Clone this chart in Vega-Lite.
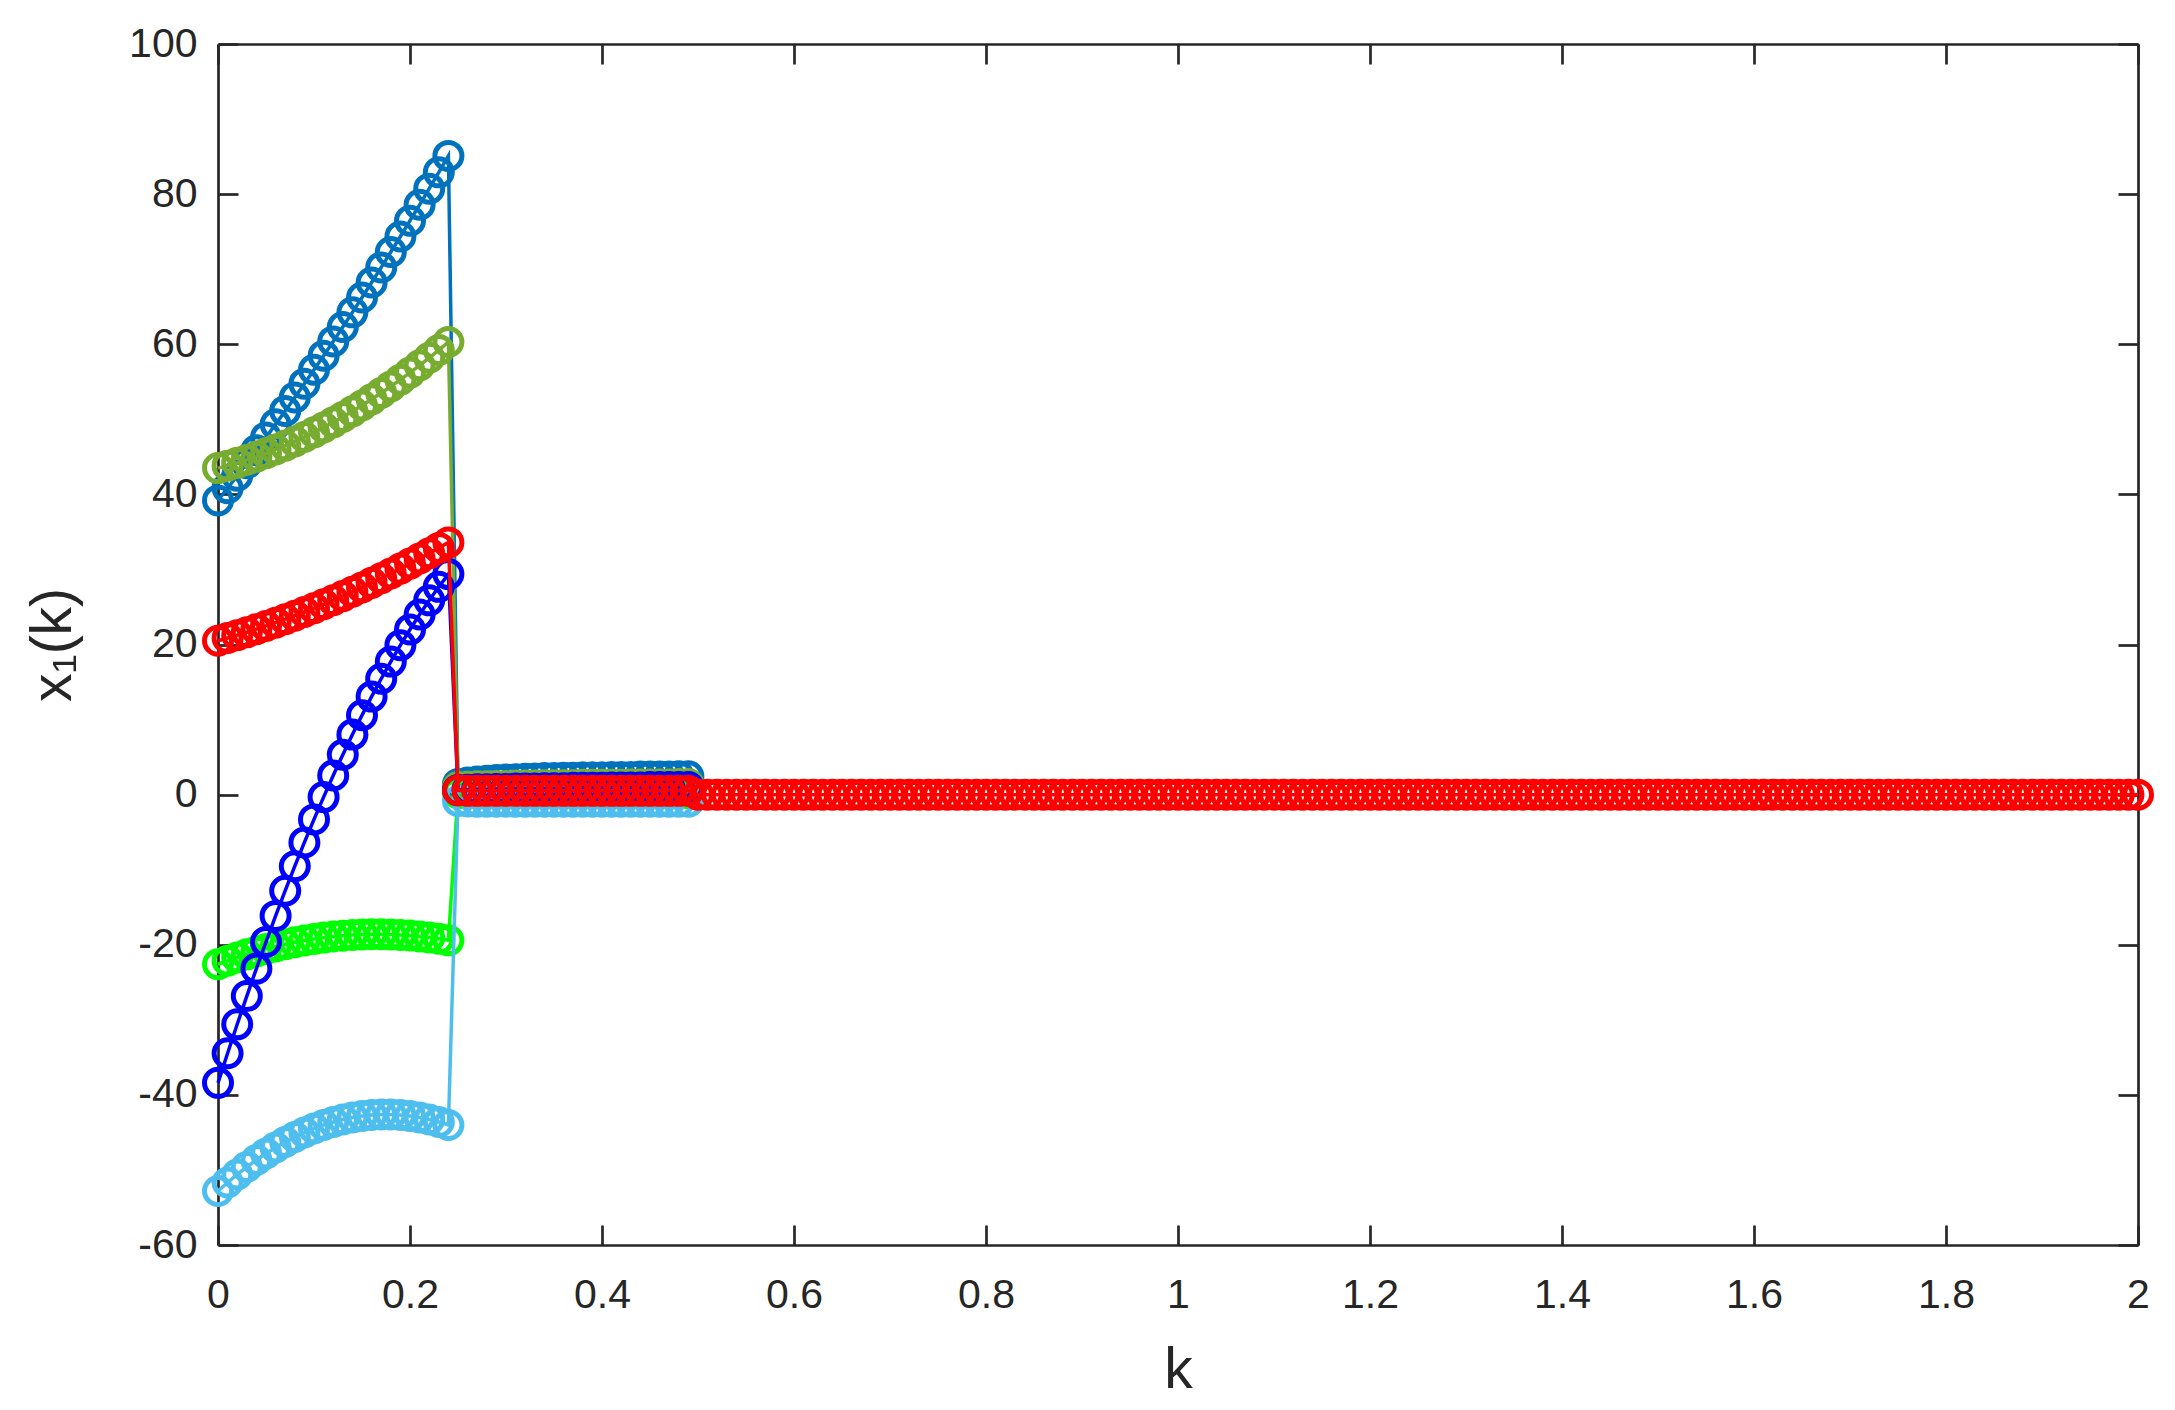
{
"$schema":"https://vega.github.io/schema/vega-lite/v6.json",
"width":1920,"height":1201,
"autosize":{"type":"none"},
"padding":{"left":218,"top":44,"right":37,"bottom":165},
"background":"white",
"config":{"view":{"stroke":null},"axis":{"domainColor":"#262626","tickColor":"#262626","labelColor":"#262626","titleColor":"#262626","labelFont":"Liberation Sans","titleFont":"Liberation Sans","labelFontSize":41,"titleFontSize":57,"titleFontWeight":"normal","domainWidth":2.7,"tickWidth":2.7,"tickSize":-20,"grid":false,"labelOverlap":false,"labelFlush":false}},
"data":{"values":[
{"s":"A","k":0,"v":39.2},{"s":"A","k":0.01,"v":40.83},{"s":"A","k":0.02,"v":42.48},{"s":"A","k":0.03,"v":44.16},{"s":"A","k":0.04,"v":45.87},{"s":"A","k":0.05,"v":47.59},{"s":"A","k":0.06,"v":49.35},{"s":"A","k":0.07,"v":51.12},{"s":"A","k":0.08,"v":52.92},{"s":"A","k":0.09,"v":54.75},{"s":"A","k":0.1,"v":56.6},{"s":"A","k":0.11,"v":58.48},{"s":"A","k":0.12,"v":60.38},{"s":"A","k":0.13,"v":62.3},{"s":"A","k":0.14,"v":64.25},{"s":"A","k":0.15,"v":66.22},{"s":"A","k":0.16,"v":68.22},{"s":"A","k":0.17,"v":70.24},{"s":"A","k":0.18,"v":72.29},{"s":"A","k":0.19,"v":74.36},{"s":"A","k":0.2,"v":76.46},{"s":"A","k":0.21,"v":78.58},{"s":"A","k":0.22,"v":80.73},{"s":"A","k":0.23,"v":82.9},{"s":"A","k":0.24,"v":85.09},
{"s":"A","k":0.25,"v":1.4},{"s":"A","k":0.26,"v":1.6},{"s":"A","k":0.27,"v":1.75},{"s":"A","k":0.28,"v":1.85},{"s":"A","k":0.29,"v":1.95},{"s":"A","k":0.3,"v":2.0},{"s":"A","k":0.31,"v":2.05},{"s":"A","k":0.32,"v":2.1},{"s":"A","k":0.33,"v":2.15},{"s":"A","k":0.34,"v":2.2},{"s":"A","k":0.35,"v":2.2},{"s":"A","k":0.36,"v":2.25},{"s":"A","k":0.37,"v":2.25},{"s":"A","k":0.38,"v":2.3},{"s":"A","k":0.39,"v":2.3},{"s":"A","k":0.4,"v":2.3},{"s":"A","k":0.41,"v":2.35},{"s":"A","k":0.42,"v":2.35},{"s":"A","k":0.43,"v":2.35},{"s":"A","k":0.44,"v":2.4},{"s":"A","k":0.45,"v":2.4},{"s":"A","k":0.46,"v":2.4},{"s":"A","k":0.47,"v":2.4},{"s":"A","k":0.48,"v":2.45},{"s":"A","k":0.49,"v":2.45},
{"s":"B","k":0,"v":43.5},{"s":"B","k":0.01,"v":43.83},{"s":"B","k":0.02,"v":44.2},{"s":"B","k":0.03,"v":44.59},{"s":"B","k":0.04,"v":45.02},{"s":"B","k":0.05,"v":45.48},{"s":"B","k":0.06,"v":45.98},{"s":"B","k":0.07,"v":46.5},{"s":"B","k":0.08,"v":47.06},{"s":"B","k":0.09,"v":47.64},{"s":"B","k":0.1,"v":48.26},{"s":"B","k":0.11,"v":48.92},{"s":"B","k":0.12,"v":49.6},{"s":"B","k":0.13,"v":50.32},{"s":"B","k":0.14,"v":51.06},{"s":"B","k":0.15,"v":51.84},{"s":"B","k":0.16,"v":52.66},{"s":"B","k":0.17,"v":53.5},{"s":"B","k":0.18,"v":54.38},{"s":"B","k":0.19,"v":55.28},{"s":"B","k":0.2,"v":56.22},{"s":"B","k":0.21,"v":57.19},{"s":"B","k":0.22,"v":58.2},{"s":"B","k":0.23,"v":59.23},{"s":"B","k":0.24,"v":60.3},
{"s":"B","k":0.25,"v":1.0},{"s":"B","k":0.26,"v":1.05},{"s":"B","k":0.27,"v":1.1},{"s":"B","k":0.28,"v":1.1},{"s":"B","k":0.29,"v":1.15},{"s":"B","k":0.3,"v":1.15},{"s":"B","k":0.31,"v":1.2},{"s":"B","k":0.32,"v":1.2},{"s":"B","k":0.33,"v":1.2},{"s":"B","k":0.34,"v":1.25},{"s":"B","k":0.35,"v":1.25},{"s":"B","k":0.36,"v":1.25},{"s":"B","k":0.37,"v":1.25},{"s":"B","k":0.38,"v":1.3},{"s":"B","k":0.39,"v":1.3},{"s":"B","k":0.4,"v":1.3},{"s":"B","k":0.41,"v":1.3},{"s":"B","k":0.42,"v":1.3},{"s":"B","k":0.43,"v":1.35},{"s":"B","k":0.44,"v":1.35},{"s":"B","k":0.45,"v":1.35},{"s":"B","k":0.46,"v":1.35},{"s":"B","k":0.47,"v":1.35},{"s":"B","k":0.48,"v":1.4},{"s":"B","k":0.49,"v":1.4},
{"s":"E","k":0,"v":-22.6},{"s":"E","k":0.01,"v":-22.13},{"s":"E","k":0.02,"v":-21.69},{"s":"E","k":0.03,"v":-21.28},{"s":"E","k":0.04,"v":-20.9},{"s":"E","k":0.05,"v":-20.55},{"s":"E","k":0.06,"v":-20.23},{"s":"E","k":0.07,"v":-19.93},{"s":"E","k":0.08,"v":-19.67},{"s":"E","k":0.09,"v":-19.43},{"s":"E","k":0.1,"v":-19.23},{"s":"E","k":0.11,"v":-19.05},{"s":"E","k":0.12,"v":-18.9},{"s":"E","k":0.13,"v":-18.79},{"s":"E","k":0.14,"v":-18.7},{"s":"E","k":0.15,"v":-18.64},{"s":"E","k":0.16,"v":-18.6},{"s":"E","k":0.17,"v":-18.6},{"s":"E","k":0.18,"v":-18.63},{"s":"E","k":0.19,"v":-18.69},{"s":"E","k":0.2,"v":-18.77},{"s":"E","k":0.21,"v":-18.89},{"s":"E","k":0.22,"v":-19.03},{"s":"E","k":0.23,"v":-19.2},{"s":"E","k":0.24,"v":-19.41},
{"s":"E","k":0.25,"v":0.2},{"s":"E","k":0.26,"v":0.2},{"s":"E","k":0.27,"v":0.2},{"s":"E","k":0.28,"v":0.2},{"s":"E","k":0.29,"v":0.2},{"s":"E","k":0.3,"v":0.2},{"s":"E","k":0.31,"v":0.2},{"s":"E","k":0.32,"v":0.2},{"s":"E","k":0.33,"v":0.2},{"s":"E","k":0.34,"v":0.2},{"s":"E","k":0.35,"v":0.2},{"s":"E","k":0.36,"v":0.2},{"s":"E","k":0.37,"v":0.2},{"s":"E","k":0.38,"v":0.2},{"s":"E","k":0.39,"v":0.2},{"s":"E","k":0.4,"v":0.2},{"s":"E","k":0.41,"v":0.2},{"s":"E","k":0.42,"v":0.2},{"s":"E","k":0.43,"v":0.2},{"s":"E","k":0.44,"v":0.2},{"s":"E","k":0.45,"v":0.2},{"s":"E","k":0.46,"v":0.2},{"s":"E","k":0.47,"v":0.2},{"s":"E","k":0.48,"v":0.2},{"s":"E","k":0.49,"v":0.2},
{"s":"F","k":0,"v":-52.8},{"s":"F","k":0.01,"v":-51.67},{"s":"F","k":0.02,"v":-50.6},{"s":"F","k":0.03,"v":-49.6},{"s":"F","k":0.04,"v":-48.67},{"s":"F","k":0.05,"v":-47.8},{"s":"F","k":0.06,"v":-47.0},{"s":"F","k":0.07,"v":-46.27},{"s":"F","k":0.08,"v":-45.61},{"s":"F","k":0.09,"v":-45.01},{"s":"F","k":0.1,"v":-44.47},{"s":"F","k":0.11,"v":-44.01},{"s":"F","k":0.12,"v":-43.61},{"s":"F","k":0.13,"v":-43.27},{"s":"F","k":0.14,"v":-43.01},{"s":"F","k":0.15,"v":-42.81},{"s":"F","k":0.16,"v":-42.68},{"s":"F","k":0.17,"v":-42.61},{"s":"F","k":0.18,"v":-42.61},{"s":"F","k":0.19,"v":-42.68},{"s":"F","k":0.2,"v":-42.81},{"s":"F","k":0.21,"v":-43.01},{"s":"F","k":0.22,"v":-43.27},{"s":"F","k":0.23,"v":-43.61},{"s":"F","k":0.24,"v":-44.01},
{"s":"F","k":0.25,"v":-0.85},{"s":"F","k":0.26,"v":-0.9},{"s":"F","k":0.27,"v":-0.95},{"s":"F","k":0.28,"v":-0.95},{"s":"F","k":0.29,"v":-0.95},{"s":"F","k":0.3,"v":-0.95},{"s":"F","k":0.31,"v":-0.95},{"s":"F","k":0.32,"v":-0.95},{"s":"F","k":0.33,"v":-0.95},{"s":"F","k":0.34,"v":-0.95},{"s":"F","k":0.35,"v":-0.95},{"s":"F","k":0.36,"v":-0.95},{"s":"F","k":0.37,"v":-0.95},{"s":"F","k":0.38,"v":-0.95},{"s":"F","k":0.39,"v":-0.95},{"s":"F","k":0.4,"v":-0.95},{"s":"F","k":0.41,"v":-0.95},{"s":"F","k":0.42,"v":-0.95},{"s":"F","k":0.43,"v":-0.95},{"s":"F","k":0.44,"v":-0.95},{"s":"F","k":0.45,"v":-0.95},{"s":"F","k":0.46,"v":-0.95},{"s":"F","k":0.47,"v":-0.95},{"s":"F","k":0.48,"v":-0.95},{"s":"F","k":0.49,"v":-0.95},
{"s":"D","k":0,"v":-38.4},{"s":"D","k":0.01,"v":-34.45},{"s":"D","k":0.02,"v":-30.6},{"s":"D","k":0.03,"v":-26.84},{"s":"D","k":0.04,"v":-23.18},{"s":"D","k":0.05,"v":-19.63},{"s":"D","k":0.06,"v":-16.16},{"s":"D","k":0.07,"v":-12.8},{"s":"D","k":0.08,"v":-9.54},{"s":"D","k":0.09,"v":-6.37},{"s":"D","k":0.1,"v":-3.3},{"s":"D","k":0.11,"v":-0.33},{"s":"D","k":0.12,"v":2.54},{"s":"D","k":0.13,"v":5.32},{"s":"D","k":0.14,"v":8.0},{"s":"D","k":0.15,"v":10.58},{"s":"D","k":0.16,"v":13.06},{"s":"D","k":0.17,"v":15.44},{"s":"D","k":0.18,"v":17.72},{"s":"D","k":0.19,"v":19.91},{"s":"D","k":0.2,"v":22.0},{"s":"D","k":0.21,"v":24.0},{"s":"D","k":0.22,"v":25.88},{"s":"D","k":0.23,"v":27.68},{"s":"D","k":0.24,"v":29.38},
{"s":"D","k":0.25,"v":0.6},{"s":"D","k":0.26,"v":0.65},{"s":"D","k":0.27,"v":0.7},{"s":"D","k":0.28,"v":0.7},{"s":"D","k":0.29,"v":0.75},{"s":"D","k":0.3,"v":0.75},{"s":"D","k":0.31,"v":0.8},{"s":"D","k":0.32,"v":0.8},{"s":"D","k":0.33,"v":0.8},{"s":"D","k":0.34,"v":0.85},{"s":"D","k":0.35,"v":0.85},{"s":"D","k":0.36,"v":0.85},{"s":"D","k":0.37,"v":0.9},{"s":"D","k":0.38,"v":0.9},{"s":"D","k":0.39,"v":0.9},{"s":"D","k":0.4,"v":0.9},{"s":"D","k":0.41,"v":0.95},{"s":"D","k":0.42,"v":0.95},{"s":"D","k":0.43,"v":0.95},{"s":"D","k":0.44,"v":0.95},{"s":"D","k":0.45,"v":1.0},{"s":"D","k":0.46,"v":1.0},{"s":"D","k":0.47,"v":1.0},{"s":"D","k":0.48,"v":1.0},{"s":"D","k":0.49,"v":1.0},
{"s":"C","k":0,"v":20.5},{"s":"C","k":0.01,"v":20.86},{"s":"C","k":0.02,"v":21.24},{"s":"C","k":0.03,"v":21.63},{"s":"C","k":0.04,"v":22.04},{"s":"C","k":0.05,"v":22.47},{"s":"C","k":0.06,"v":22.91},{"s":"C","k":0.07,"v":23.37},{"s":"C","k":0.08,"v":23.84},{"s":"C","k":0.09,"v":24.33},{"s":"C","k":0.1,"v":24.84},{"s":"C","k":0.11,"v":25.36},{"s":"C","k":0.12,"v":25.9},{"s":"C","k":0.13,"v":26.45},{"s":"C","k":0.14,"v":27.02},{"s":"C","k":0.15,"v":27.61},{"s":"C","k":0.16,"v":28.21},{"s":"C","k":0.17,"v":28.83},{"s":"C","k":0.18,"v":29.46},{"s":"C","k":0.19,"v":30.11},{"s":"C","k":0.2,"v":30.78},{"s":"C","k":0.21,"v":31.46},{"s":"C","k":0.22,"v":32.16},{"s":"C","k":0.23,"v":32.87},{"s":"C","k":0.24,"v":33.6},
{"s":"C","k":0.25,"v":0.55},{"s":"C","k":0.26,"v":0.5},{"s":"C","k":0.27,"v":0.5},{"s":"C","k":0.28,"v":0.5},{"s":"C","k":0.29,"v":0.5},{"s":"C","k":0.3,"v":0.5},{"s":"C","k":0.31,"v":0.5},{"s":"C","k":0.32,"v":0.5},{"s":"C","k":0.33,"v":0.5},{"s":"C","k":0.34,"v":0.5},{"s":"C","k":0.35,"v":0.5},{"s":"C","k":0.36,"v":0.5},{"s":"C","k":0.37,"v":0.5},{"s":"C","k":0.38,"v":0.5},{"s":"C","k":0.39,"v":0.5},{"s":"C","k":0.4,"v":0.5},{"s":"C","k":0.41,"v":0.5},{"s":"C","k":0.42,"v":0.5},{"s":"C","k":0.43,"v":0.5},{"s":"C","k":0.44,"v":0.5},{"s":"C","k":0.45,"v":0.5},{"s":"C","k":0.46,"v":0.5},{"s":"C","k":0.47,"v":0.5},{"s":"C","k":0.48,"v":0.5},{"s":"C","k":0.49,"v":0.5},
{"s":"C","k":0.5,"v":0},{"s":"C","k":0.51,"v":0},{"s":"C","k":0.52,"v":0},{"s":"C","k":0.53,"v":0},{"s":"C","k":0.54,"v":0},{"s":"C","k":0.55,"v":0},{"s":"C","k":0.56,"v":0},{"s":"C","k":0.57,"v":0},{"s":"C","k":0.58,"v":0},{"s":"C","k":0.59,"v":0},
{"s":"C","k":0.6,"v":0},{"s":"C","k":0.61,"v":0},{"s":"C","k":0.62,"v":0},{"s":"C","k":0.63,"v":0},{"s":"C","k":0.64,"v":0},{"s":"C","k":0.65,"v":0},{"s":"C","k":0.66,"v":0},{"s":"C","k":0.67,"v":0},{"s":"C","k":0.68,"v":0},{"s":"C","k":0.69,"v":0},
{"s":"C","k":0.7,"v":0},{"s":"C","k":0.71,"v":0},{"s":"C","k":0.72,"v":0},{"s":"C","k":0.73,"v":0},{"s":"C","k":0.74,"v":0},{"s":"C","k":0.75,"v":0},{"s":"C","k":0.76,"v":0},{"s":"C","k":0.77,"v":0},{"s":"C","k":0.78,"v":0},{"s":"C","k":0.79,"v":0},
{"s":"C","k":0.8,"v":0},{"s":"C","k":0.81,"v":0},{"s":"C","k":0.82,"v":0},{"s":"C","k":0.83,"v":0},{"s":"C","k":0.84,"v":0},{"s":"C","k":0.85,"v":0},{"s":"C","k":0.86,"v":0},{"s":"C","k":0.87,"v":0},{"s":"C","k":0.88,"v":0},{"s":"C","k":0.89,"v":0},
{"s":"C","k":0.9,"v":0},{"s":"C","k":0.91,"v":0},{"s":"C","k":0.92,"v":0},{"s":"C","k":0.93,"v":0},{"s":"C","k":0.94,"v":0},{"s":"C","k":0.95,"v":0},{"s":"C","k":0.96,"v":0},{"s":"C","k":0.97,"v":0},{"s":"C","k":0.98,"v":0},{"s":"C","k":0.99,"v":0},
{"s":"C","k":1.0,"v":0},{"s":"C","k":1.01,"v":0},{"s":"C","k":1.02,"v":0},{"s":"C","k":1.03,"v":0},{"s":"C","k":1.04,"v":0},{"s":"C","k":1.05,"v":0},{"s":"C","k":1.06,"v":0},{"s":"C","k":1.07,"v":0},{"s":"C","k":1.08,"v":0},{"s":"C","k":1.09,"v":0},
{"s":"C","k":1.1,"v":0},{"s":"C","k":1.11,"v":0},{"s":"C","k":1.12,"v":0},{"s":"C","k":1.13,"v":0},{"s":"C","k":1.14,"v":0},{"s":"C","k":1.15,"v":0},{"s":"C","k":1.16,"v":0},{"s":"C","k":1.17,"v":0},{"s":"C","k":1.18,"v":0},{"s":"C","k":1.19,"v":0},
{"s":"C","k":1.2,"v":0},{"s":"C","k":1.21,"v":0},{"s":"C","k":1.22,"v":0},{"s":"C","k":1.23,"v":0},{"s":"C","k":1.24,"v":0},{"s":"C","k":1.25,"v":0},{"s":"C","k":1.26,"v":0},{"s":"C","k":1.27,"v":0},{"s":"C","k":1.28,"v":0},{"s":"C","k":1.29,"v":0},
{"s":"C","k":1.3,"v":0},{"s":"C","k":1.31,"v":0},{"s":"C","k":1.32,"v":0},{"s":"C","k":1.33,"v":0},{"s":"C","k":1.34,"v":0},{"s":"C","k":1.35,"v":0},{"s":"C","k":1.36,"v":0},{"s":"C","k":1.37,"v":0},{"s":"C","k":1.38,"v":0},{"s":"C","k":1.39,"v":0},
{"s":"C","k":1.4,"v":0},{"s":"C","k":1.41,"v":0},{"s":"C","k":1.42,"v":0},{"s":"C","k":1.43,"v":0},{"s":"C","k":1.44,"v":0},{"s":"C","k":1.45,"v":0},{"s":"C","k":1.46,"v":0},{"s":"C","k":1.47,"v":0},{"s":"C","k":1.48,"v":0},{"s":"C","k":1.49,"v":0},
{"s":"C","k":1.5,"v":0},{"s":"C","k":1.51,"v":0},{"s":"C","k":1.52,"v":0},{"s":"C","k":1.53,"v":0},{"s":"C","k":1.54,"v":0},{"s":"C","k":1.55,"v":0},{"s":"C","k":1.56,"v":0},{"s":"C","k":1.57,"v":0},{"s":"C","k":1.58,"v":0},{"s":"C","k":1.59,"v":0},
{"s":"C","k":1.6,"v":0},{"s":"C","k":1.61,"v":0},{"s":"C","k":1.62,"v":0},{"s":"C","k":1.63,"v":0},{"s":"C","k":1.64,"v":0},{"s":"C","k":1.65,"v":0},{"s":"C","k":1.66,"v":0},{"s":"C","k":1.67,"v":0},{"s":"C","k":1.68,"v":0},{"s":"C","k":1.69,"v":0},
{"s":"C","k":1.7,"v":0},{"s":"C","k":1.71,"v":0},{"s":"C","k":1.72,"v":0},{"s":"C","k":1.73,"v":0},{"s":"C","k":1.74,"v":0},{"s":"C","k":1.75,"v":0},{"s":"C","k":1.76,"v":0},{"s":"C","k":1.77,"v":0},{"s":"C","k":1.78,"v":0},{"s":"C","k":1.79,"v":0},
{"s":"C","k":1.8,"v":0},{"s":"C","k":1.81,"v":0},{"s":"C","k":1.82,"v":0},{"s":"C","k":1.83,"v":0},{"s":"C","k":1.84,"v":0},{"s":"C","k":1.85,"v":0},{"s":"C","k":1.86,"v":0},{"s":"C","k":1.87,"v":0},{"s":"C","k":1.88,"v":0},{"s":"C","k":1.89,"v":0},
{"s":"C","k":1.9,"v":0},{"s":"C","k":1.91,"v":0},{"s":"C","k":1.92,"v":0},{"s":"C","k":1.93,"v":0},{"s":"C","k":1.94,"v":0},{"s":"C","k":1.95,"v":0},{"s":"C","k":1.96,"v":0},{"s":"C","k":1.97,"v":0},{"s":"C","k":1.98,"v":0},{"s":"C","k":1.99,"v":0},{"s":"C","k":2.0,"v":0}
]},
"layer":[
{"transform":[{"filter":"datum.s==='A'"}],
 "mark":{"type":"line","color":"#0072BD","strokeWidth":3.5},
 "encoding":{
  "x":{"field":"k","type":"quantitative","scale":{"domain":[0,2],"nice":false,"zero":false},"axis":{"orient":"bottom","values":[0,0.2,0.4,0.6,0.8,1,1.2,1.4,1.6,1.8,2],"labelExpr":"toString(datum.value)","labelPadding":50,"title":"k","titleY":142,"titleBaseline":"alphabetic"}},
  "y":{"field":"v","type":"quantitative","scale":{"domain":[-60,100],"nice":false,"zero":false},"axis":{"orient":"left","values":[-60,-40,-20,0,20,40,60,80,100],"labelExpr":"toString(datum.value)","labelPadding":41,"title":"x₁(k)","titleX":-148,"titleBaseline":"alphabetic"}}}},
{"transform":[{"filter":"datum.s==='A'"}],
 "mark":{"type":"point","filled":false,"fill":null,"opacity":1,"size":729,"strokeWidth":5,"stroke":"#0072BD"},
 "encoding":{
  "x":{"field":"k","type":"quantitative","axis":{"orient":"top","values":[0,0.2,0.4,0.6,0.8,1,1.2,1.4,1.6,1.8,2],"labels":false,"title":null}},
  "y":{"field":"v","type":"quantitative","axis":{"orient":"right","values":[-60,-40,-20,0,20,40,60,80,100],"labels":false,"title":null}}}},
{"transform":[{"filter":"datum.s==='B'"}],
 "mark":{"type":"line","color":"#77AC30","strokeWidth":3.5},
 "encoding":{"x":{"field":"k","type":"quantitative","axis":null},"y":{"field":"v","type":"quantitative","axis":null}}},
{"transform":[{"filter":"datum.s==='B'"}],
 "mark":{"type":"point","filled":false,"fill":null,"opacity":1,"size":729,"strokeWidth":5,"stroke":"#77AC30"},
 "encoding":{"x":{"field":"k","type":"quantitative","axis":null},"y":{"field":"v","type":"quantitative","axis":null}}},
{"transform":[{"filter":"datum.s==='E'"}],
 "mark":{"type":"line","color":"#00FF00","strokeWidth":3.5},
 "encoding":{"x":{"field":"k","type":"quantitative","axis":null},"y":{"field":"v","type":"quantitative","axis":null}}},
{"transform":[{"filter":"datum.s==='E'"}],
 "mark":{"type":"point","filled":false,"fill":null,"opacity":1,"size":729,"strokeWidth":5,"stroke":"#00FF00"},
 "encoding":{"x":{"field":"k","type":"quantitative","axis":null},"y":{"field":"v","type":"quantitative","axis":null}}},
{"transform":[{"filter":"datum.s==='F'"}],
 "mark":{"type":"line","color":"#4DBEEE","strokeWidth":3.5},
 "encoding":{"x":{"field":"k","type":"quantitative","axis":null},"y":{"field":"v","type":"quantitative","axis":null}}},
{"transform":[{"filter":"datum.s==='F'"}],
 "mark":{"type":"point","filled":false,"fill":null,"opacity":1,"size":729,"strokeWidth":5,"stroke":"#4DBEEE"},
 "encoding":{"x":{"field":"k","type":"quantitative","axis":null},"y":{"field":"v","type":"quantitative","axis":null}}},
{"transform":[{"filter":"datum.s==='D'"}],
 "mark":{"type":"line","color":"#0000FF","strokeWidth":3.5},
 "encoding":{"x":{"field":"k","type":"quantitative","axis":null},"y":{"field":"v","type":"quantitative","axis":null}}},
{"transform":[{"filter":"datum.s==='D'"}],
 "mark":{"type":"point","filled":false,"fill":null,"opacity":1,"size":729,"strokeWidth":5,"stroke":"#0000FF"},
 "encoding":{"x":{"field":"k","type":"quantitative","axis":null},"y":{"field":"v","type":"quantitative","axis":null}}},
{"transform":[{"filter":"datum.s==='C'"}],
 "mark":{"type":"line","color":"#FF0000","strokeWidth":3.5},
 "encoding":{"x":{"field":"k","type":"quantitative","axis":null},"y":{"field":"v","type":"quantitative","axis":null}}},
{"transform":[{"filter":"datum.s==='C'"}],
 "mark":{"type":"point","filled":false,"fill":null,"opacity":1,"size":729,"strokeWidth":5,"stroke":"#FF0000"},
 "encoding":{"x":{"field":"k","type":"quantitative","axis":null},"y":{"field":"v","type":"quantitative","axis":null}}}
],
"resolve":{"axis":{"x":"independent","y":"independent"}}
}
